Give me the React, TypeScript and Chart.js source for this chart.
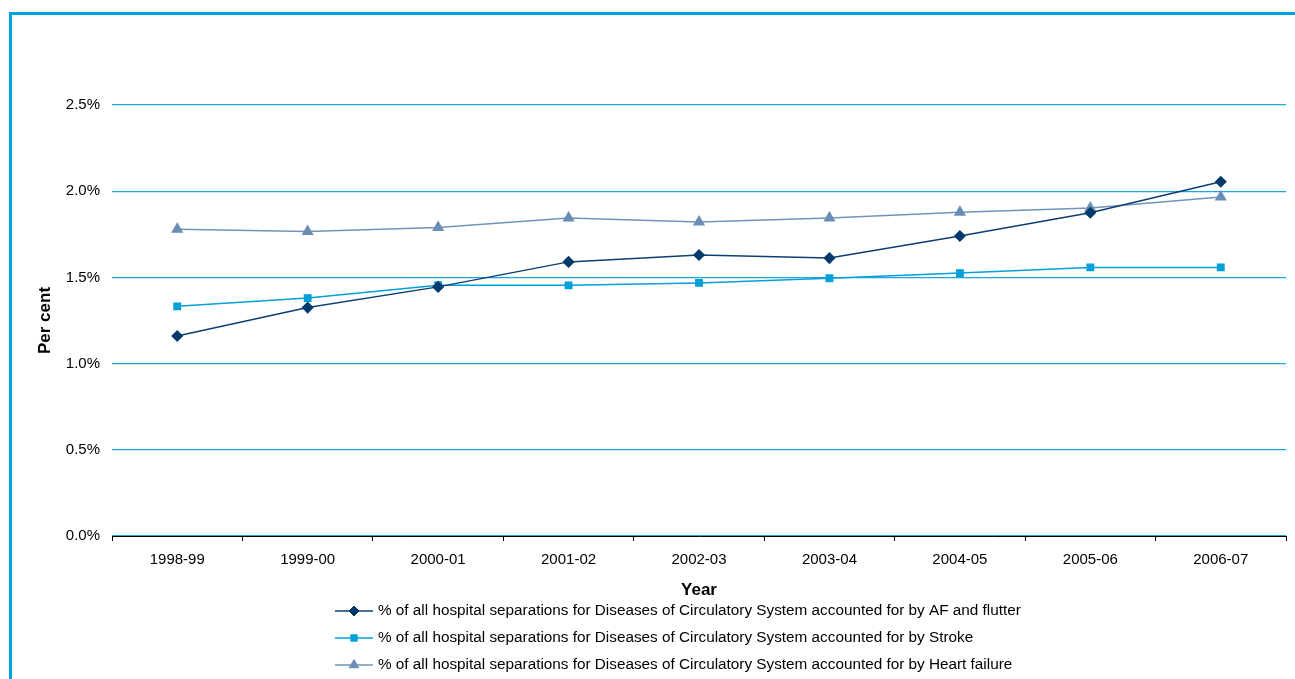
import React, { useEffect, useRef } from "react";
import { Chart, registerables } from "chart.js";
import { drawPoint } from "chart.js/helpers";

Chart.register(...registerables);

const years = ["1998-99", "1999-00", "2000-01", "2001-02", "2002-03", "2003-04", "2004-05", "2005-06", "2006-07"];

const afFlutter = [1.16, 1.325, 1.445, 1.59, 1.63, 1.612, 1.74, 1.875, 2.055];
const stroke = [1.332, 1.38, 1.455, 1.454, 1.468, 1.495, 1.525, 1.558, 1.558];
const heartFailure = [1.78, 1.766, 1.79, 1.845, 1.822, 1.845, 1.878, 1.902, 1.966];

const seriesLabels = [
  "% of all hospital separations for Diseases of Circulatory System accounted for by AF and flutter",
  "% of all hospital separations for Diseases of Circulatory System accounted for by Stroke",
  "% of all hospital separations for Diseases of Circulatory System accounted for by Heart failure",
];

const yTicks = [0, 0.5, 1.0, 1.5, 2.0, 2.5];

const FONT = "'Liberation Sans', Arial, Helvetica, sans-serif";
const GRID_BLUE = "rgb(30,165,222)";

// Stacked legend block: line sample with marker, then the label text
const stackedLegend = {
  id: "stackedLegend",
  afterDraw(chart: any) {
    const ctx = chart.ctx;
    const x0 = 335;
    const x1 = 373;
    const textX = 378;
    const firstY = 611;
    const rowGap = 27;
    ctx.save();
    chart.data.datasets.forEach((ds: any, i: number) => {
      const y = firstY + i * rowGap;
      ctx.strokeStyle = ds.borderColor;
      ctx.lineWidth = ds.borderWidth;
      ctx.beginPath();
      ctx.moveTo(x0, y);
      ctx.lineTo(x1, y);
      ctx.stroke();
      ctx.fillStyle = ds.pointBackgroundColor;
      ctx.strokeStyle = ds.pointBorderColor;
      ctx.lineWidth = 1;
      drawPoint(ctx, { pointStyle: ds.pointStyle, radius: ds.pointRadius, borderWidth: 1, rotation: 0 }, (x0 + x1) / 2, y);
      ctx.fillStyle = "#000";
      ctx.font = `15.3px ${FONT}`;
      ctx.textBaseline = "middle";
      ctx.textAlign = "left";
      ctx.fillText(ds.label, textX, y);
    });
    ctx.restore();
  },
};

export default function App() {
  const canvasRef = useRef<HTMLCanvasElement | null>(null);

  useEffect(() => {
    const canvas = canvasRef.current;
    if (!canvas) return;
    const chart = new Chart(canvas, {
      type: "line",
      data: {
        labels: years,
        datasets: [
          {
            label: seriesLabels[0],
            data: afFlutter,
            borderColor: "#0b3f72",
            borderWidth: 1.5,
            pointStyle: "rectRot",
            pointRadius: 5,
            pointBackgroundColor: "#003a6c",
            pointBorderColor: "#003a6c",
            tension: 0,
          },
          {
            label: seriesLabels[1],
            data: stroke,
            borderColor: "#00a0da",
            borderWidth: 1.5,
            pointStyle: "rect",
            pointRadius: 4.5,
            pointBackgroundColor: "#00a0da",
            pointBorderColor: "#00a0da",
            tension: 0,
          },
          {
            label: seriesLabels[2],
            data: heartFailure,
            borderColor: "#7294ba",
            borderWidth: 1.5,
            pointStyle: "triangle",
            pointRadius: 5.5,
            pointBackgroundColor: "#6a8db3",
            pointBorderColor: "#6a8db3",
            tension: 0,
          },
        ],
      },
      options: {
        animation: false,
        responsive: false,
        devicePixelRatio: 1,
        layout: { padding: { top: 105, right: 9, left: 0, bottom: 0 } },
        plugins: {
          legend: { display: false },
          tooltip: { enabled: false },
        },
        scales: {
          x: {
            type: "category",
            offset: true,
            z: 1,
            afterFit: (scale: any) => {
              scale.height = 143;
            },
            grid: {
              offset: true,
              drawOnChartArea: false,
              drawTicks: true,
              tickLength: 5,
              tickColor: "#000",
              lineWidth: 1,
            },
            border: { display: true, color: "#000", width: 1 },
            ticks: {
              color: "#000",
              font: { family: FONT, size: 15 },
              padding: 10,
              maxRotation: 0,
              autoSkip: false,
            },
            title: {
              display: true,
              text: "Year",
              color: "#000",
              font: { family: FONT, size: 17, weight: "bold" },
              padding: { top: 0, bottom: 78 },
            },
          },
          y: {
            type: "linear",
            min: 0,
            max: 2.5,
            afterFit: (scale: any) => {
              scale.width = 112;
            },
            afterBuildTicks: (scale: any) => {
              scale.ticks = yTicks.map((v) => ({ value: v }));
            },
            grid: {
              display: true,
              drawOnChartArea: true,
              drawTicks: false,
              color: GRID_BLUE,
              lineWidth: 1.2,
            },
            border: { display: false },
            ticks: {
              color: "#000",
              font: { family: FONT, size: 15 },
              padding: 12,
              callback: (v: any) => `${Number(v).toFixed(1)}%`,
            },
            title: {
              display: true,
              text: "Per cent",
              color: "#000",
              font: { family: FONT, size: 17, weight: "bold" },
              padding: { top: 35, bottom: 0 },
            },
          },
        },
      },
      plugins: [stackedLegend],
    });
    return () => chart.destroy();
  }, []);

  return (
    <div
      style={{
        position: "fixed",
        inset: 0,
        overflow: "hidden",
        background: "#fff",
      }}
    >
      <div
        style={{
          position: "absolute",
          left: 9,
          top: 12,
          width: 1400,
          height: 800,
          borderTop: "3px solid #00a2dc",
          borderLeft: "3px solid #00a2dc",
        }}
      />
      <canvas
        ref={canvasRef}
        width={1295}
        height={679}
        style={{ position: "absolute", left: 0, top: 0, width: 1295, height: 679 }}
      />
    </div>
  );
}
